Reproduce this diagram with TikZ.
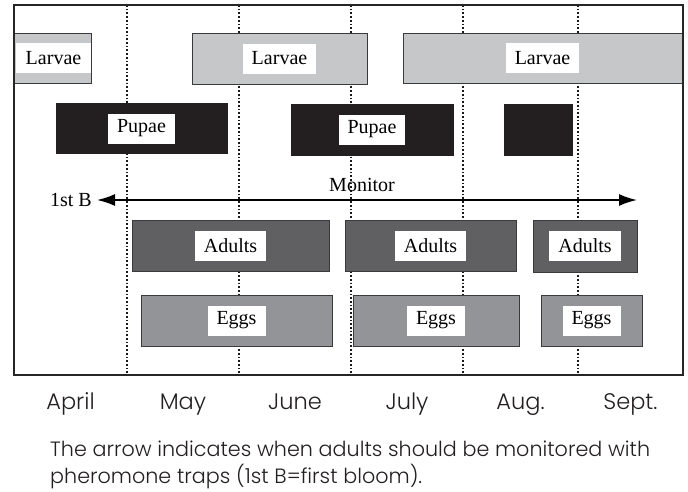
\documentclass[tikz,border=0pt]{standalone}
\usepackage{fontspec}
\setmainfont{Liberation Serif}
\newfontfamily\capfont{Poppins Light}
\usetikzlibrary{arrows.meta}
\definecolor{larvc}{HTML}{C6C7C9}
\definecolor{pupc}{HTML}{231F20}
\definecolor{adc}{HTML}{606062}
\definecolor{eggc}{HTML}{939497}
\definecolor{edgec}{HTML}{3A3A3C}
\definecolor{txtc}{HTML}{231F20}
\tikzset{
  bar/.style={draw=edgec, line width=1pt, inner sep=0pt},
  lab/.style={fill=white, inner xsep=9pt, inner ysep=0pt, minimum height=30pt, font=\fontsize{20}{22}\selectfont},
  month/.style={font=\capfont\fontsize{22.5}{26}\selectfont, anchor=base, inner sep=0pt, text=txtc},
  vline/.style={line width=1.7pt, dash pattern=on 1.7pt off 2pt, color=black!90},
}
\begin{document}
\begin{tikzpicture}[x=1pt,y=-1pt]
\useasboundingbox (0,0) rectangle (688,491);
% dotted month lines
\foreach \n/\x in {a/127,b/239,c/351,d/463,e/578}{
  \coordinate (t\n) at (\x,5);
  \coordinate (b\n) at (\x,375);
  \draw[vline] (t\n) -- (b\n);
}
% Larvae
\node[bar, fill=larvc, minimum width=77pt, minimum height=50pt] (L1) at (52.5,58) {};
\node[bar, fill=larvc, minimum width=175pt, minimum height=51pt] (L2) at (279.5,58.5) {};
\node[bar, fill=larvc, minimum width=279pt, minimum height=50pt] (L3) at (542.5,58) {};
\node[lab, minimum width=75pt] (tL1) at (53.5,58) {Larvae};
\node[lab] (tL2) at (L2) {Larvae};
\node[lab] (tL3) at (L3) {Larvae};
% Pupae
\node[bar, fill=pupc, draw=pupc, minimum width=171pt, minimum height=50pt] (P1) at (141.5,128.5) {};
\node[bar, fill=pupc, draw=pupc, minimum width=162pt, minimum height=51pt] (P2) at (372,129.5) {};
\node[bar, fill=pupc, draw=pupc, minimum width=68pt, minimum height=51pt] (P3) at (538,129.5) {};
\node[lab] (tP1) at (P1) {Pupae};
\node[lab] (tP2) at (P2) {Pupae};
% Adults
\node[bar, fill=adc, minimum width=197pt, minimum height=51pt] (A1) at (230.5,245.5) {};
\node[bar, fill=adc, minimum width=171pt, minimum height=51pt] (A2) at (430.5,245.5) {};
\node[bar, fill=adc, minimum width=104pt, minimum height=52pt] (A3) at (585,246) {};
\node[lab] (tA1) at (A1) {Adults};
\node[lab] (tA2) at (A2) {Adults};
\node[lab] (tA3) at (A3) {Adults};
% Eggs
\node[bar, fill=eggc, minimum width=191pt, minimum height=51pt] (E1) at (236.5,320.5) {};
\node[bar, fill=eggc, minimum width=166pt, minimum height=51pt] (E2) at (436,320.5) {};
\node[bar, fill=eggc, minimum width=101pt, minimum height=51pt] (E3) at (591.5,320.5) {};
\node[lab] (tE1) at (E1) {Eggs};
\node[lab] (tE2) at (E2) {Eggs};
\node[lab] (tE3) at (E3) {Eggs};
% Monitor arrow
\node[font=\fontsize{20}{22}\selectfont, anchor=east, inner sep=0pt] (fb) at (92,200) {1st B};
\coordinate (mend) at (637,200);
\draw[line width=1.8pt, {Latex[length=18pt,width=12pt]}-{Latex[length=18pt,width=12pt]}] (fb.east) ++(5,0) coordinate (mstart) -- (mend);
\node[font=\fontsize{20}{22}\selectfont, inner sep=0pt] (mon) at (362,185) {Monitor};
% frame
\node[draw=black!85, line width=2.2pt, minimum width=669pt, minimum height=370pt, inner sep=0pt] (frame) at (348.5,190) {};
% months
\node[month] (m1) at (70.5,409) {April};
\node[month] (m2) at (183,409) {May};
\node[month] (m3) at (295,409) {June};
\node[month] (m4) at (407,409) {July};
\node[month] (m5) at (520.5,409) {Aug.};
\node[month] (m6) at (630.5,409) {Sept.};
% caption (base anchor = baseline of the last line)
\node[anchor=base west, align=left, inner sep=0pt, text=txtc, font=\capfont\fontsize{20.7}{27}\selectfont] (cap) at (50,483) {The arrow indicates when adults should be monitored with\\pheromone traps (1st B=first bloom).};
\end{tikzpicture}
\end{document}
